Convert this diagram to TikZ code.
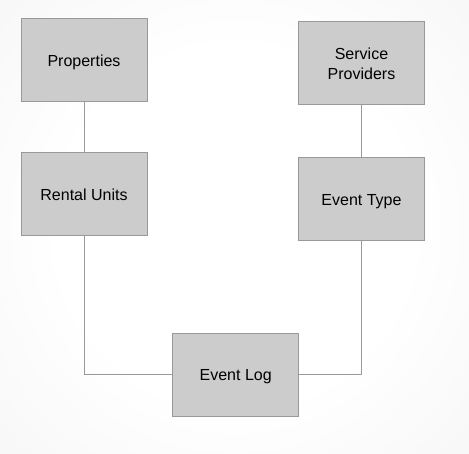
\documentclass[tikz,border=0pt]{standalone}
\usepackage{fontspec}
\setmainfont{Liberation Sans}
\definecolor{boxfill}{HTML}{CCCCCC}
\definecolor{boxline}{HTML}{999999}
\definecolor{bgedge}{HTML}{E4E4E4}
\pgfdeclareradialshading{bgshade}{\pgfpoint{0bp}{0bp}}{color(0bp)=(white); color(18bp)=(white); color(72bp)=(bgedge)}
\begin{document}
\begin{tikzpicture}[x=1pt,y=1pt,
  entity/.style={draw=boxline, line width=1pt, fill=boxfill, minimum width=126pt, minimum height=83pt, inner sep=0pt, align=center, text depth=0pt, font=\fontsize{16}{19.5}\selectfont},
  link/.style={draw=boxline, line width=1pt}]
\useasboundingbox (0,0) rectangle (469,453);
\shade[shading=bgshade] (-10,-20) rectangle (480,473);
\node[entity] (prop) at (84,392.5) {Properties};
\node[entity] (rent) at (84,258.5) {Rental Units};
\node[entity] (sp) at (361.5,389.5) {Service\\Providers};
\node[entity] (et) at (361.5,253.5) {Event Type};
\node[entity] (el) at (235.7,78) {Event Log};
\draw[link] (prop) -- (rent);
\draw[link] (sp) -- (et);
\draw[link] (rent.south) |- (el.west);
\draw[link] (et.south) |- (el.east);
\end{tikzpicture}
\end{document}
